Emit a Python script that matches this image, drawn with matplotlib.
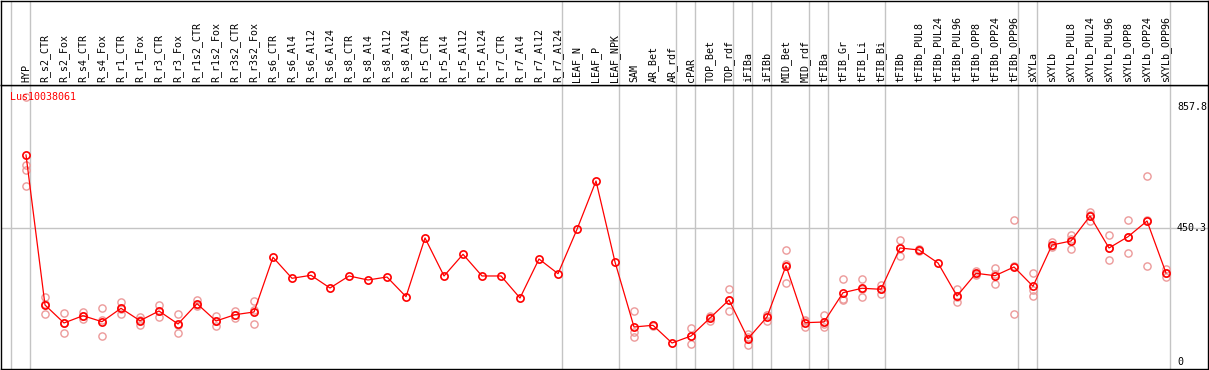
import numpy as np
import matplotlib
matplotlib.use("Agg")
import matplotlib.pyplot as plt

gene = "Lus10038061"

samples = ["HYP",
           "R_s2_CTR", "R_s2_Fox", "R_s4_CTR", "R_s4_Fox", "R_r1_CTR", "R_r1_Fox",
           "R_r3_CTR", "R_r3_Fox", "R_r1s2_CTR", "R_r1s2_Fox", "R_r3s2_CTR", "R_r3s2_Fox",
           "R_s6_CTR", "R_s6_Al4", "R_s6_Al12", "R_s6_Al24", "R_s8_CTR", "R_s8_Al4",
           "R_s8_Al12", "R_s8_Al24", "R_r5_CTR", "R_r5_Al4", "R_r5_Al12", "R_r5_Al24",
           "R_r7_CTR", "R_r7_Al4", "R_r7_Al12", "R_r7_Al24",
           "LEAF_N", "LEAF_P", "LEAF_NPK",
           "SAM", "AR_Bet", "AR_rdf", "cPAR", "TOP_Bet", "TOP_rdf", "iFIBa", "iFIBb",
           "MID_Bet", "MID_rdf", "tFIBa", "tFIB_Gr", "tFIB_Li", "tFIB_Bi",
           "tFIBb", "tFIBb_PUL8", "tFIBb_PUL24", "tFIBb_PUL96", "tFIBb_OPP8",
           "tFIBb_OPP24", "tFIBb_OPP96",
           "sXYLa", "sXYLb", "sXYLb_PUL8", "sXYLb_PUL24", "sXYLb_PUL96", "sXYLb_OPP8",
           "sXYLb_OPP24", "sXYLb_OPP96"]

means = [695.7,
         190.8, 130.3, 154.8, 134.6, 179.7, 138.0, 170.6, 126.9, 195.2, 137.0, 158.2, 167.3,
         351.4, 280.7, 290.8, 248.0, 288.5, 275.0, 285.0, 218.8, 416.4, 288.5, 361.5, 288.5,
         288.5, 214.4, 345.7, 296.2,
         445.6, 608.2, 335.6,
         116.8, 122.5, 62.9, 86.5, 147.1, 207.7, 77.4, 150.5,
         323.1, 131.3, 133.6, 232.2, 247.1, 243.7,
         382.7, 376.0, 332.2, 221.1, 297.5, 289.5, 318.7,
         253.8, 392.8, 406.3, 490.4, 382.7, 420.7, 473.6, 298.6]

# individual replicates (empty where none visible apart from the mean)
replicates = [[892, 662, 645, 591],
              [217, 160, 195], [164, 97, 130], [168, 143, 153], [180, 86, 139],
              [201, 160, 178], [151, 122, 140], [191, 149, 172], [159, 97, 125],
              [207, 187, 191], [154, 120, 137], [170, 157, 147], [203, 126, 173],
              [], [], [], [], [], [], [], [], [], [], [], [], [], [], [], [],
              [], [], [],
              [171, 101, 83], [124, 121], [], [113, 59, 88], [155, 137, 150],
              [244, 171, 209], [92, 56, 84], [157, 138, 156],
              [376, 264, 329], [140, 118, 136], [157, 118, 126], [278, 208, 210],
              [277, 219, 245], [258, 228, 245],
              [410, 356, 383], [380, 373], [], [244, 202, 218], [306, 291, 295],
              [314, 261, 294], [476, 160, 321],
              [298, 241, 221], [404, 385, 390], [425, 380, 413], [504, 473, 495],
              [425, 341, 381], [476, 365, 421], [624, 321, 476], [312, 284, 300]]

# last sample index of each group (vertical separators)
group_ends = [-1, 0, 28, 31, 34, 35, 37, 38, 39, 41, 42, 45, 52, 53, 60]
y_ticks = [0, 450.3, 857.8]

W, H = 1209, 370
fig = plt.figure(figsize=(W / 100, H / 100), dpi=100)
ax = fig.add_axes([1 / W, 1 / H, 1207 / W, 284 / H])
hx = fig.add_axes([1 / W, 285 / H, 1207 / W, 84.5 / H], sharex=ax)

x = np.arange(len(samples))
mono = "DejaVu Sans Mono"
grey = "#c4c4c4"

for a in (ax, hx):
    for k in group_ends:
        a.axvline(k + 0.226, color=grey, lw=1.0, zorder=0)
    for s in a.spines.values():
        s.set_color("black")
        s.set_linewidth(1.0)
    a.set_xticks([])
    a.set_yticks([])

ax.axhline(450.3, color=grey, lw=1.0, zorder=0)

for i, reps in enumerate(replicates):
    if reps:
        ax.plot([i] * len(reps), reps, "o", ms=5.2, mfc="none", mec="#ec9a9a",
                mew=1.0, zorder=2, clip_on=False)

ax.plot(x, means, "-", color="red", lw=0.9, zorder=3)
ax.plot(x, means, "o", ms=5.2, mfc="none", mec="red", mew=1.2, zorder=4)

ax.set_xlim(-1.316, 62.21)
ax.set_ylim(-24.6, 931.3)
hx.set_ylim(0, 1)

for v in y_ticks:
    ax.text(60.58, v, ("%.1f" % v) if v else "0", ha="left", va="center",
            fontsize=7.2, family=mono, color="black")

ax.text(9 / 1207, 0.958, gene, transform=ax.transAxes, ha="left", va="center",
        fontsize=7.2, family=mono, color="red")

for i, s in enumerate(samples):
    hx.text(i, 0.03, s, rotation=90, ha="center", va="bottom",
            fontsize=7.2, family=mono, color="black")

fig.savefig("out.png", dpi=100)
